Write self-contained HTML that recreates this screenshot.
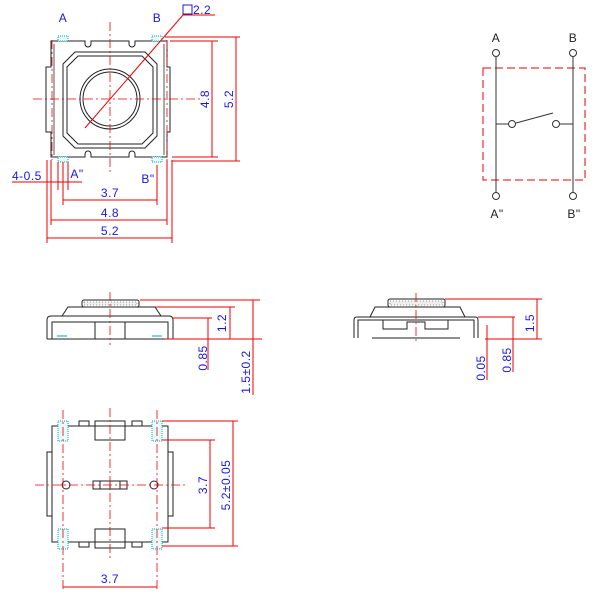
<!DOCTYPE html><html><head><style>body{margin:0;background:#fff}svg{display:block}text{font-family:"Liberation Sans",sans-serif;font-size:12px;fill:#1818e0;letter-spacing:0.5px}</style></head><body>
<svg width="600" height="614" viewBox="0 0 600 614" xmlns="http://www.w3.org/2000/svg">
<g fill="none" stroke="#222" stroke-width="1">
<path d="M51,41 H85 V44 A3,3 0 0 0 91,44 V41 H129 V44 A3,3 0 0 0 135,44 V41 H167 V67 H170 V132 H167 V157 H135 V154 A3,3 0 0 0 129,154 V157 H91 V154 A3,3 0 0 0 85,154 V157 H51 V132 H46 V67 H51 Z"/>
<path d="M54,44 V155 M164,44 V155" stroke="#555"/>
<path d="M75,52 H145 L157,64 V136 L145,148 H75 L63,136 V64 Z"/>
<path d="M78,56 H142 L153,67 V133 L142,144 H78 L67,133 V67 Z"/>
<circle cx="110" cy="99" r="30"/><circle cx="110" cy="99" r="27"/>
<rect x="82" y="300" width="57" height="7" rx="2"/>
<path d="M62,316 L68,307 H155 L161,316"/>
<path d="M47,339 V320 Q47,316 51,316 H169 Q173,316 173,320 V339 H47 M52,339 V322 H168 V339 M95,322 V339 M125,322 V339"/>
<path d="M57,336 H67 M152,336 H162" stroke="#0aa"/>
<rect x="388" y="299" width="57" height="8" rx="2"/>
<path d="M370,317 L375,307 H460 L465,317"/>
<path d="M354,338 V320 Q354,317 357,317 H475 Q478,317 478,320 V338 M358,338 V320 H474 V338 M383,320 V329 H407 V322 H425 V329 H448 V320 M372,338 H460"/>
<path d="M52,426 H168 V542 H52 Z M47,452 H52 V516 H47 Z M168,452 H173 V516 H168 Z"/>
<rect x="95" y="421" width="30" height="19"/><rect x="95" y="529" width="30" height="19"/>
<rect x="79" y="421" width="10" height="5"/><rect x="132" y="421" width="10" height="5"/>
<rect x="79" y="542" width="10" height="5"/><rect x="132" y="542" width="10" height="5"/>
<rect x="93" y="481" width="34" height="8"/><path d="M100,481 V489 M110,481 V489 M120,481 V489"/>
<circle cx="66" cy="485" r="4"/><circle cx="154" cy="485" r="4"/>
</g>
<g fill="#e8fafa" stroke="#0aa" stroke-width="1" stroke-dasharray="1,1">
<rect x="58" y="36" width="10" height="5"/><rect x="152" y="36" width="10" height="5"/>
<rect x="58" y="157" width="10" height="5"/><rect x="152" y="157" width="10" height="5"/>
<rect x="58" y="421" width="10" height="20"/><rect x="152" y="421" width="10" height="20"/>
<rect x="58" y="529" width="10" height="20"/><rect x="152" y="529" width="10" height="20"/>
</g>
<g fill="#eee" stroke="#999" stroke-width="1" stroke-dasharray="1,2">
<rect x="84" y="302" width="53" height="3"/><rect x="390" y="301" width="53" height="4"/>
</g>
<g fill="none" stroke="#e00" stroke-width="1">
<g stroke-dasharray="9,3,2,3" stroke-width="0.8">
<path d="M33,99 H200 M110,22 V175 M52,40 V160 M167,40 V160"/>
<path d="M110,292 V345 M416,293 V344"/>
<path d="M35,485 H185 M110,408 V560 M63,410 V592 M157,410 V592"/>
</g>
<path d="M85,128 L183,15 H215"/>
<path d="M170,41 H218 M172,157 H218 M212,41 V157 M165,37 H240 M172,161 H240 M236,37 V161"/>
<path d="M12,182 H82 M58,162 V190 M63,162 V205 M68,162 V190 M157,165 V205 M51,160 V225 M167,160 V225 M47,160 V243 M172,160 V243"/>
<path d="M63,200 H157 M51,220 H167 M47,238 H172"/>
<path d="M140,300 H260 M155,307 H235 M172,318 H212 M165,339 H262 M208,318 V370 M230,307 V339 M253,300 V395"/>
<path d="M445,299 H542 M478,317 H515 M485,339 H542 M487,325 V380 M513,317 V372 M537,299 V339"/>
<path d="M162,421 H238 M162,440 H215 M162,528 H215 M162,546 H238 M210,440 V528 M233,421 V546 M63,587 H157"/>
<rect x="483" y="68" width="102" height="112" stroke-dasharray="8,4"/>
</g>
<rect x="183" y="5" width="9" height="9" fill="none" stroke="#1818e0"/>
<g fill="none" stroke="#333">
<path d="M496,57 V192 M573,57 V192 M496,124 H508 M516,123 L553,113 M560,124 H573"/>
<circle cx="496" cy="53" r="3.5"/><circle cx="573" cy="53" r="3.5"/>
<circle cx="496" cy="196" r="3.5"/><circle cx="573" cy="196" r="3.5"/>
<circle cx="512" cy="124" r="3.5"/><circle cx="556" cy="124" r="3.5"/>
</g>
<text x="496" y="42" text-anchor="middle" style="fill:#222">A</text>
<text x="573" y="42" text-anchor="middle" style="fill:#222">B</text>
<text x="497" y="218" text-anchor="middle" style="fill:#222">A"</text>
<text x="574" y="218" text-anchor="middle" style="fill:#222">B"</text>
<text x="63" y="22" text-anchor="middle">A</text>
<text x="157" y="22" text-anchor="middle">B</text>
<text x="193" y="14">2.2</text>
<text x="77" y="178" text-anchor="middle">A"</text>
<text x="148" y="183" text-anchor="middle">B"</text>
<text x="12" y="180">4-0.5</text>
<text x="110" y="197" text-anchor="middle">3.7</text>
<text x="110" y="217" text-anchor="middle">4.8</text>
<text x="110" y="235" text-anchor="middle">5.2</text>
<text transform="translate(209,99) rotate(-90)" text-anchor="middle">4.8</text>
<text transform="translate(233,99) rotate(-90)" text-anchor="middle">5.2</text>
<text transform="translate(226,323) rotate(-90)" text-anchor="middle">1.2</text>
<text transform="translate(207,358) rotate(-90)" text-anchor="middle">0.85</text>
<text transform="translate(250,372) rotate(-90)" text-anchor="middle">1.5±0.2</text>
<text transform="translate(485,368) rotate(-90)" text-anchor="middle">0.05</text>
<text transform="translate(511,360) rotate(-90)" text-anchor="middle">0.85</text>
<text transform="translate(534,323) rotate(-90)" text-anchor="middle">1.5</text>
<text transform="translate(207,485) rotate(-90)" text-anchor="middle">3.7</text>
<text transform="translate(230,485) rotate(-90)" text-anchor="middle">5.2±0.05</text>
<text x="110" y="583" text-anchor="middle">3.7</text>
</svg>
</body></html>
